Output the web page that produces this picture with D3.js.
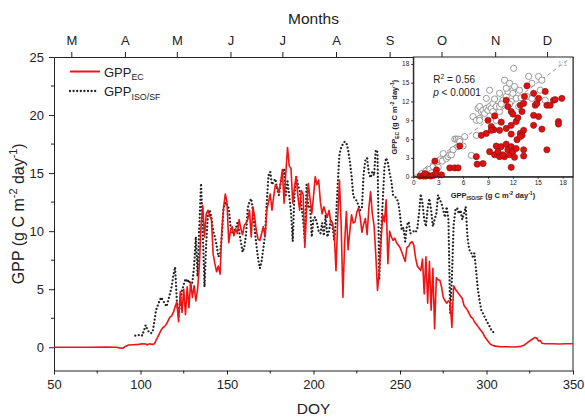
<!DOCTYPE html>
<html>
<head>
<meta charset="utf-8">
<script src="https://cdn.jsdelivr.net/npm/d3@7"></script>
<style>
  body { margin: 0; background: #fff; }
  text { font-family: Arial, "Liberation Sans", sans-serif; fill: #222; }
</style>
</head>
<body>
<svg id="chart" width="585" height="417"></svg>
<script>
// GPP from eddy covariance (red line)
const ecDoy = [50,60,70,80,86,88,90,91,93,96,99,101,103,104,105,107,108,109,110,111,112,113,114,115,116,117,118,119,120,121,122,123,124,125,126,127,128,129,130,131,132,133,134,135,136,137,138,139,140,141,142,143,144,145,146,147,148,149,150,151,152,153,154,155,156,157,158,159,160,161,162,163,164,165,166,167,168,169,170,171,172,173,174,175,176,177,178,179,180,181,182,183,184,185,186,187,188,189,190,191,192,193,194,195,196,197,198,199,200,201,202,203,204,205,206,207,208,209,210,211,212,213,214,215,216,217,218,219,220,221,222,223,224,225,226,227,228,229,230,231,232,233,234,235,236,237,238,239,240,241,242,243,244,245,246,247,248,249,250,251,252,253,254,255,256,257,258,259,260,261,262,263,264,265,266,267,268,269,270,271,272,273,274,275,276,277,278,279,280,281,282,283,284,285,286,287,288,289,290,291,292,293,294,295,296,297,298,299,300,301,302,303,305,308,312,316,320,322,324,326,328,329,330,331,332,334,338,342,346,350]
const ecGpp = [0,0,0,0.02,0,-0.05,-0.08,0.05,0.2,0.22,0.25,0.3,0.28,0.2,0.3,0.25,0.3,0.6,0.9,1.2,1.5,1.7,1.8,2.0,2.3,2.6,2.7,3.0,3.5,3.9,2.2,4.8,3.0,5.0,2.8,5.2,3.4,5.6,4.3,5.3,4.0,5.0,7.0,10.5,12.2,9.5,11.5,11.8,11.3,11.0,8.0,7.2,6.5,7.0,6.3,10.0,12.0,13.2,12.5,9.0,10.0,10.4,9.6,10.2,9.8,11.0,10.2,9.7,10.5,10.7,11.0,11.8,9.5,12.1,11.2,10.0,9.3,9.2,9.8,10.4,9.5,11.8,12.5,13.2,11.8,13.0,14.0,13.8,13.3,14.2,15.3,12.4,15.0,17.2,15.6,15.4,12.4,13.8,14.7,13.0,11.8,13.5,13.2,8.6,12.0,14.1,12.8,11.5,13.0,14.7,14.0,14.4,12.5,11.5,12.1,11.6,11.2,11.8,10.8,10.7,9.8,6.6,11.0,14.4,10.5,4.3,9.0,11.7,8.4,10.0,11.4,10.7,10.8,11.6,12.0,11.2,9.9,10.6,11.1,9.7,12.0,13.4,11.5,10.5,8.0,4.9,6.5,9.0,11.4,10.8,12.7,7.2,10.0,9.5,9.2,9.4,9.0,8.8,8.6,8.2,7.8,7.4,8.6,8.7,9.0,9.1,8.8,7.7,7.0,6.8,6.6,7.6,4.6,7.8,3.8,7.4,3.2,6.8,1.6,6.0,5.8,5.8,5.2,4.3,4.0,3.8,4.0,3.9,1.7,5.3,5.0,4.8,4.6,4.4,4.2,3.6,3.4,3.2,2.9,2.6,2.5,2.2,2.0,1.8,1.6,1.4,1.2,0.9,0.7,0.5,0.3,0.2,0.1,0.05,0.05,0.02,0.08,0.2,0.45,0.65,0.85,0.8,0.55,0.6,0.35,0.3,0.3,0.28,0.3,0.3]

// GPP from isotope / solar-induced fluorescence (dotted)
const isoDoy = [97,98,100,101,103,104,105,106,107,108,109,110,111,112,113,114,115,116,117,118,119,120,121,122,123,124,125,126,127,128,129,130,131,132,133,134,135,136,137,138,139,140,141,142,143,144,145,146,147,148,149,150,151,152,153,154,155,156,157,158,159,160,161,162,163,164,165,166,167,168,169,170,171,172,173,174,175,176,177,178,179,180,181,182,183,184,185,186,187,188,189,190,191,192,193,194,195,196,197,198,199,200,201,202,203,204,205,206,207,208,209,210,211,212,213,214,215,216,217,218,219,220,221,222,223,224,225,226,227,228,229,230,231,232,233,234,235,236,237,238,239,240,241,242,243,244,245,246,247,248,249,250,251,252,253,254,255,256,257,258,259,260,261,262,263,264,265,266,267,268,269,270,271,272,273,274,275,276,277,278,279,280,281,282,283,284,285,286,287,288,289,290,291,292,293,294,295,296,297,298,299,300,301,302,303,304,305]
const isoGpp = [1.0,1.0,1.1,1.0,1.9,1.5,1.3,1.2,1.3,2.2,3.2,3.6,4.0,4.3,4.0,3.8,3.5,4.0,4.6,5.2,6.2,6.9,4.0,2.6,4.0,4.9,5.4,5.9,5.6,5.8,5.3,5.6,7.0,9.5,6.1,10.4,14.1,10.0,5.2,9.0,11.5,11.8,11.2,10.0,9.5,8.8,7.8,8.0,9.6,12.0,12.5,12.2,12.0,10.5,9.9,10.0,10.2,10.7,10.0,9.1,8.2,8.6,9.7,12.0,12.5,12.8,11.7,10.2,8.8,7.6,6.8,7.4,8.5,9.7,12.5,14.8,15.1,14.0,14.3,14.5,13.6,13.1,14.2,14.8,15.4,13.1,14.3,13.0,11.7,9.1,13.1,14.7,14.0,13.5,12.2,11.0,9.1,14.0,12.1,12.2,9.5,11.1,11.2,10.7,10.0,9.8,10.7,9.6,11.4,9.5,10.0,11.0,10.4,9.2,11.0,14.0,16.6,17.2,17.5,17.7,17.6,17.0,16.0,14.8,13.0,12.8,12.6,12.2,11.8,12.0,15.0,16.1,16.3,15.0,14.6,15.1,14.8,17.0,16.8,5.8,9.8,12.5,15.5,16.3,15.9,15.0,14.3,13.1,13.0,12.8,12.5,11.4,10.1,10.3,9.1,10.5,10.8,9.8,9.9,10.0,9.9,10.2,11.5,13.2,12.4,11.0,10.4,12.0,12.8,11.8,10.4,11.0,11.5,13.1,12.7,12.4,11.8,11.2,12.1,11.0,2.9,6.0,10.5,11.8,12.0,11.5,11.8,11.0,11.5,12.1,9.5,8.4,8.2,7.8,8.1,6.6,5.0,4.0,3.2,2.9,2.6,2.3,2.0,1.75,1.4,1.3,1.2]

// top axis months (first day of month, DOY)
const monthDoy = [60, 91, 121, 152, 182, 213, 244, 274, 305, 335]
const monthLabels = ['M', 'A', 'M', 'J', 'J', 'A', 'S', 'O', 'N', 'D']

const doyTicks = [50, 100, 150, 200, 250, 300, 350]
const gppTicks = [0, 5, 10, 15, 20, 25]
const insetTicks = [0, 3, 6, 9, 12, 15, 18]

// inset scatter: [GPP_ISO/SF, GPP_EC]
const scatterOpen = [[1.0,0.5],[1.3,0.3],[1.5,0.9],[2.0,1.2],[2.4,1.6],[2.2,0.6],[2.8,2.2],[3.2,2.7],[3.5,2.5],[3.0,1.5],[3.6,3.7],[4.0,2.9],[4.2,3.2],[4.4,3.5],[4.6,3.5],[4.8,4.3],[5.0,6.0],[5.2,6.0],[5.4,6.0],[5.6,5.9],[5.6,5.6],[5.4,4.8],[6.0,4.9],[6.2,6.4],[7.0,3.4],[7.6,6.6],[7.2,9.6],[7.6,9.0],[8.0,9.3],[8.0,9.0],[7.8,10.9],[8.2,10.4],[8.0,11.2],[8.4,10.6],[8.6,10.1],[8.8,10.9],[9.0,10.6],[9.2,11.2],[9.4,10.9],[9.6,10.4],[8.8,12.5],[9.2,13.8],[9.6,11.7],[10.0,11.2],[10.4,10.4],[10.0,9.0],[10.4,11.2],[10.4,13.3],[10.8,12.2],[11.2,12.8],[11.4,13.6],[11.0,15.4],[11.2,14.1],[11.6,14.9],[12.0,13.8],[12.2,14.4],[12.1,17.3],[12.0,13.3],[12.4,12.5],[12.8,13.8],[12.7,11.2],[13.7,12.8],[13.9,16.0],[14.3,14.9],[14.3,12.5],[15.1,16.0],[15.5,15.4],[15.3,13.8],[15.9,12.2],[11.8,12.0],[13.0,12.6],[9.8,12.4],[10.6,11.6],[11.6,11.6]]
const scatterRed = [[0.8,0.1],[1.2,0.1],[1.5,0.1],[1.8,0.2],[2.1,0.1],[2.4,0.2],[1.4,0.5],[2.8,1.1],[3.4,0.3],[2.6,2.5],[2.7,0.5],[4.4,1.4],[5.0,1.4],[5.4,1.4],[5.6,4.9],[7.6,3.2],[7.7,2.0],[8.4,2.1],[8.2,6.6],[8.8,6.9],[9.0,9.0],[9.4,8.0],[9.7,7.5],[9.4,7.4],[9.8,9.7],[10.4,7.4],[10.6,8.7],[11.2,12.2],[11.4,11.2],[11.8,10.4],[11.2,7.7],[11.8,8.2],[12.4,8.8],[12.9,11.4],[13.1,10.4],[13.3,11.7],[13.7,14.5],[12.9,6.9],[13.3,7.4],[13.1,6.6],[14.5,13.3],[14.7,11.4],[14.9,11.7],[15.1,12.5],[14.5,9.8],[15.1,9.6],[14.5,8.2],[15.5,7.6],[15.9,13.6],[16.1,11.4],[16.5,11.4],[16.9,12.2],[17.1,12.3],[17.9,12.5],[17.5,8.8],[17.5,8.4],[16.1,4.3],[9.2,4.0],[9.8,3.5],[10.0,4.9],[10.4,3.2],[10.6,4.8],[11.0,3.2],[11.2,5.2],[11.4,4.3],[11.6,3.5],[11.8,4.8],[11.8,1.5],[12.0,4.0],[12.2,3.1],[12.4,4.5],[12.5,5.9],[12.9,6.4],[13.3,4.3],[13.3,3.3],[10.8,3.5],[10.2,4.0],[11.8,6.8],[12.6,9.4],[12.0,10.0],[13.4,12.8]]

const RED = '#f01414'
const INK = '#222'

const svg = d3.select('#chart')
const margin = { top: 57, right: 12, bottom: 46.5, left: 54 }
const width = 585 - margin.left - margin.right
const height = 417 - margin.top - margin.bottom

const x = d3.scaleLinear().domain([50, 350]).range([margin.left, margin.left + width])
const y = d3.scaleLinear().domain([-2, 25]).range([margin.top + height, margin.top])

// writes text with sub/superscripts
function rich(sel, parts, size) {
  let shift = 0
  parts.forEach(([t, k]) => {
    const target = k === 'sup' ? -size * 0.42 : k === 'sub' ? size * 0.3 : 0
    sel.append('tspan').text(t)
      .attr('dy', target - shift)
      .attr('font-size', k ? size * 0.68 : size)
    shift = target
  })
}

function styleAxis(g, fs) {
  g.select('.domain').attr('stroke', INK)
  g.selectAll('.tick line').attr('stroke', INK)
  g.selectAll('.tick text').attr('font-size', fs).attr('fill', INK)
}

// ---- main axes
const xAxis = svg.append('g').attr('transform', `translate(0,${margin.top + height})`)
  .call(d3.axisBottom(x).tickValues(doyTicks).tickSize(4).tickPadding(5).tickSizeOuter(0))
styleAxis(xAxis, 13)
xAxis.selectAll('.minor').data(d3.range(75, 350, 50)).enter().append('line')
  .attr('x1', d => x(d)).attr('x2', d => x(d)).attr('y1', 0).attr('y2', 3).attr('stroke', INK)

const yAxis = svg.append('g').attr('transform', `translate(${margin.left},0)`)
  .call(d3.axisLeft(y).tickValues(gppTicks).tickSize(5).tickPadding(5).tickSizeOuter(0))
styleAxis(yAxis, 13)
yAxis.selectAll('.minor').data(d3.range(2.5, 25, 5)).enter().append('line')
  .attr('y1', d => y(d)).attr('y2', d => y(d)).attr('x1', 0).attr('x2', -3).attr('stroke', INK)

const topAxis = svg.append('g').attr('transform', `translate(0,${margin.top})`)
  .call(d3.axisTop(x).tickValues(monthDoy).tickFormat((d, i) => monthLabels[i]).tickSize(5).tickPadding(7).tickSizeOuter(0))
styleAxis(topAxis, 13)

svg.append('line')
  .attr('x1', x(350)).attr('x2', x(350)).attr('y1', y(25)).attr('y2', y(-2))
  .attr('stroke', INK)

// ---- axis titles
svg.append('text').attr('x', x(200)).attr('y', 414).attr('text-anchor', 'middle')
  .attr('font-size', 15.5).text('DOY')
svg.append('text').attr('x', x(200)).attr('y', 24).attr('text-anchor', 'middle')
  .attr('font-size', 15.5).text('Months')
const yTitle = svg.append('text')
  .attr('transform', `translate(24,${(y(25) + y(-2)) / 2}) rotate(-90)`)
  .attr('text-anchor', 'middle')
rich(yTitle, [['GPP (g C m'], ['-2', 'sup'], [' day'], ['-1', 'sup'], [')']], 16)

// ---- series
const line = d3.line().x(d => x(d[0])).y(d => y(d[1]))
const ecData = d3.zip(ecDoy, ecGpp)
const isoData = d3.zip(isoDoy, isoGpp)

svg.append('path').datum(isoData)
  .attr('d', line).attr('fill', 'none')
  .attr('stroke', INK).attr('stroke-width', 2.3)
  .attr('stroke-linecap', 'round').attr('stroke-dasharray', '0,3.6')

svg.append('path').datum(ecData)
  .attr('d', line).attr('fill', 'none')
  .attr('stroke', RED).attr('stroke-width', 1.6)
  .attr('stroke-linejoin', 'round')

// ---- legend
const legend = svg.append('g')
legend.append('line').attr('x1', 70).attr('x2', 100).attr('y1', 71.5).attr('y2', 71.5)
  .attr('stroke', RED).attr('stroke-width', 2)
rich(legend.append('text').attr('x', 104).attr('y', 76.5), [['GPP'], ['EC', 'sub']], 13)
legend.append('line').attr('x1', 70).attr('x2', 97).attr('y1', 91).attr('y2', 91)
  .attr('stroke', INK).attr('stroke-width', 2.3)
  .attr('stroke-linecap', 'round').attr('stroke-dasharray', '0,3.6')
rich(legend.append('text').attr('x', 104).attr('y', 96), [['GPP'], ['ISO/SF', 'sub']], 13)

// ---- inset scatter
const xi = d3.scaleLinear().domain([0, 19.25]).range([413.3, 573])
const yi = d3.scaleLinear().domain([0, 19.1]).range([176.7, 57])
const inset = svg.append('g')

inset.append('rect')
  .attr('x', xi(0)).attr('y', yi(19.1))
  .attr('width', xi(19.25) - xi(0)).attr('height', yi(0) - yi(19.1))
  .attr('fill', '#fff').attr('stroke', INK).attr('stroke-width', 1)

inset.append('line')
  .attr('x1', xi(0)).attr('y1', yi(0)).attr('x2', xi(19.1)).attr('y2', yi(19.1))
  .attr('stroke', '#9a9a9a').attr('stroke-width', 1).attr('stroke-dasharray', '4,3')
inset.append('text').attr('x', xi(17.4)).attr('y', yi(17.6))
  .attr('font-size', 7).style('fill', '#aaa').text('1:1')

inset.selectAll('.open').data(scatterOpen).enter().append('circle')
  .attr('cx', d => xi(d[0])).attr('cy', d => yi(d[1])).attr('r', 3.1)
  .attr('fill', '#fff').attr('stroke', '#808080').attr('stroke-width', 0.8)

inset.selectAll('.red').data(scatterRed).enter().append('circle')
  .attr('cx', d => xi(d[0])).attr('cy', d => yi(d[1])).attr('r', 3.1)
  .attr('fill', '#e01010').attr('stroke', '#7a1010').attr('stroke-width', 0.6)

const ixAxis = inset.append('g').attr('transform', `translate(0,${yi(0)})`)
  .call(d3.axisBottom(xi).tickValues(insetTicks).tickSize(2).tickPadding(2).tickSizeOuter(0))
styleAxis(ixAxis, 6.5)
const iyAxis = inset.append('g').attr('transform', `translate(${xi(0)},0)`)
  .call(d3.axisLeft(yi).tickValues(insetTicks).tickSize(2).tickPadding(2).tickSizeOuter(0))
styleAxis(iyAxis, 6.5)

rich(inset.append('text').attr('x', xi(9.6)).attr('y', 198).attr('text-anchor', 'middle')
  .attr('font-weight', 'bold'),
  [['GPP'], ['ISO/SF', 'sub'], [' (g C m'], ['-2', 'sup'], [' day'], ['-1', 'sup'], [')']], 7.5)
rich(inset.append('text')
  .attr('transform', `translate(397,${yi(9.5)}) rotate(-90)`).attr('text-anchor', 'middle')
  .attr('font-weight', 'bold'),
  [['GPP'], ['EC', 'sub'], [' (g C m'], ['-2', 'sup'], [' day'], ['-1', 'sup'], [')']], 7.5)

rich(inset.append('text').attr('x', xi(2.4)).attr('y', 83),
  [['R'], ['2', 'sup'], [' = 0.56']], 10)
const pText = inset.append('text').attr('x', xi(2.4)).attr('y', 96).attr('font-size', 10)
pText.append('tspan').attr('font-style', 'italic').text('p')
pText.append('tspan').text(' < 0.0001')
</script>
</body>
</html>
